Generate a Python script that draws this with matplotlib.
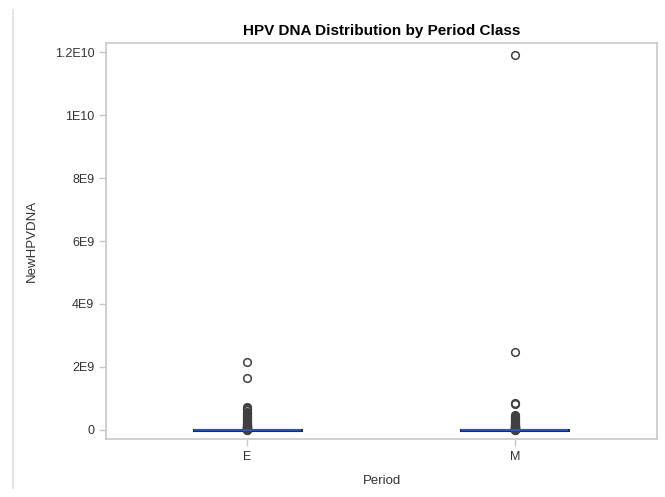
import matplotlib
matplotlib.use("Agg")
import matplotlib.pyplot as plt
from matplotlib.ticker import FixedLocator, FixedFormatter
from matplotlib.lines import Line2D

plt.rcParams['font.family'] = ['Liberation Sans', 'DejaVu Sans']

categories = ["E", "M"]
# box statistics (values are tiny compared to the axis range)
q1 = [0.0, 0.0]
med = [1.0e6, 0.8e6]
q3 = [4.0e6, 3.0e6]
whislo = [0.0, 0.0]
whishi = [1.0e7, 0.8e7]
fliers_E = [2.15e9, 1.66e9, 0.74e9, 0.70e9, 0.66e9, 0.62e9, 0.58e9, 0.55e9,
            0.52e9, 0.49e9, 0.46e9, 0.43e9, 0.40e9, 0.37e9, 0.34e9, 0.31e9,
            0.28e9, 0.26e9, 0.24e9, 0.22e9, 0.20e9, 0.18e9, 0.17e9, 0.16e9,
            0.15e9, 0.14e9, 0.13e9, 0.12e9, 0.11e9, 0.10e9, 0.095e9, 0.09e9,
            0.085e9, 0.08e9, 0.075e9, 0.07e9, 0.065e9, 0.06e9, 0.055e9,
            0.05e9, 0.045e9, 0.04e9, 0.035e9, 0.03e9, 0.025e9, 0.02e9,
            0.018e9, 0.016e9, 0.014e9, 0.012e9]
fliers_M = [1.19e10, 2.48e9, 0.85e9, 0.81e9, 0.48e9, 0.44e9, 0.40e9, 0.37e9,
            0.34e9, 0.31e9, 0.28e9, 0.25e9, 0.23e9, 0.21e9, 0.19e9, 0.17e9,
            0.16e9, 0.15e9, 0.14e9, 0.13e9, 0.12e9, 0.11e9, 0.10e9, 0.095e9,
            0.09e9, 0.085e9, 0.08e9, 0.075e9, 0.07e9, 0.065e9, 0.06e9,
            0.055e9, 0.05e9, 0.045e9, 0.04e9, 0.035e9, 0.03e9, 0.025e9,
            0.02e9, 0.018e9, 0.016e9, 0.014e9, 0.012e9]
yticks = [0, 2e9, 4e9, 6e9, 8e9, 1e10, 1.2e10]
ytick_labels = ["0", "2E9", "4E9", "6E9", "8E9", "1E10", "1.2E10"]

fig = plt.figure(figsize=(6.65, 4.97), dpi=100)
ax = fig.add_axes([106/665, 1-439/497, (657-106)/665, (439-43)/497])

stats = []
fl = [fliers_E, fliers_M]
for i, c in enumerate(categories):
    stats.append(dict(label=c, q1=q1[i], med=med[i], q3=q3[i],
                      whislo=whislo[i], whishi=whishi[i], fliers=fl[i]))

ax.bxp(stats, positions=[0, 1], widths=0.4, showfliers=True, showcaps=False,
       boxprops=dict(color='#1c2b55', lw=2.2),
       medianprops=dict(color='#2f5bc0', lw=1.2),
       whiskerprops=dict(color='#1c2b55', lw=1.2),
       flierprops=dict(marker='o', markersize=5.5, markerfacecolor='none',
                       markeredgecolor='#404040', markeredgewidth=1.1, alpha=1.0))

ax.set_xlim(-0.529, 1.531)
ax.set_ylim(-0.286e9, 12.286e9)
ax.yaxis.set_major_locator(FixedLocator(yticks))
ax.yaxis.set_major_formatter(FixedFormatter(ytick_labels))
ax.set_xticks([0, 1])
ax.set_xticklabels(categories)

for s in ax.spines.values():
    s.set_color('#c8c8c8')
    s.set_linewidth(1.2)
ax.tick_params(axis='both', colors='#c8c8c8', labelcolor='#333333',
               labelsize=9, length=5, width=1)

ax.set_title("HPV DNA Distribution by Period Class", fontsize=11,
             fontweight='bold', color='black', pad=6)
ax.set_ylabel("NewHPVDNA", fontsize=9.5, color='#333333', labelpad=12)
ax.set_xlabel("Period", fontsize=9.5, color='#333333', labelpad=9)

# thin gray line at the left edge of the page
fig.add_artist(Line2D([13/665, 13/665], [1-488/497, 1-10/497],
                      color='#e0e0e0', lw=1.2))

fig.savefig("out.png", dpi=100)
